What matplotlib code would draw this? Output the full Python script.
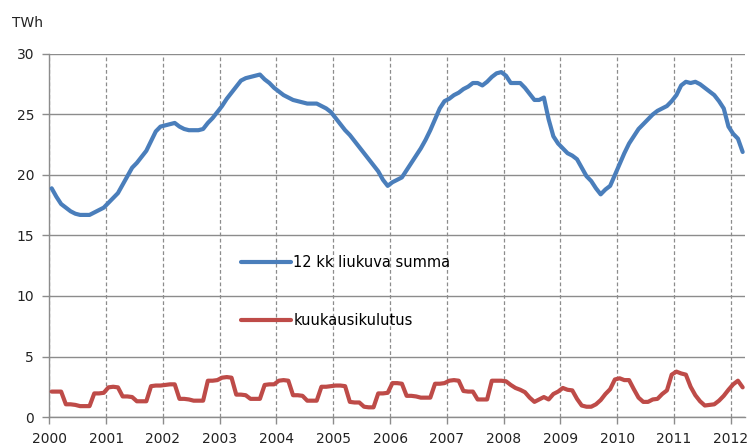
import matplotlib.pyplot as plt
import numpy as np

#===========================================================================#
#
# Data: monthly values, Jan 2000 .. Mar 2012 (TWh)
#
#---------------------------------------------------------------------------#

years = list(range(2000, 2013))

# 12 kk liukuva summa (12-month moving sum)
rolling_sum = [
    18.9, 18.2, 17.6, 17.3, 17.0, 16.8, 16.7, 16.7, 16.7, 16.9, 17.1, 17.3,
    17.7, 18.1, 18.5, 19.2, 19.9, 20.6, 21.0, 21.5, 22.0, 22.8, 23.6, 24.0,
    24.1, 24.2, 24.3, 24.0, 23.8, 23.7, 23.7, 23.7, 23.8, 24.3, 24.7, 25.2,
    25.7, 26.3, 26.8, 27.3, 27.8, 28.0, 28.1, 28.2, 28.3, 27.9, 27.6, 27.2,
    26.9, 26.6, 26.4, 26.2, 26.1, 26.0, 25.9, 25.9, 25.9, 25.7, 25.5, 25.2,
    24.7, 24.2, 23.7, 23.3, 22.8, 22.3, 21.8, 21.3, 20.8, 20.3, 19.6, 19.1,
    19.4, 19.6, 19.8, 20.4, 21.0, 21.6, 22.2, 22.9, 23.7, 24.6, 25.5, 26.1,
    26.3, 26.6, 26.8, 27.1, 27.3, 27.6, 27.6, 27.4, 27.7, 28.1, 28.4, 28.5,
    28.2, 27.6, 27.6, 27.6, 27.2, 26.7, 26.2, 26.2, 26.4, 24.6, 23.2, 22.6,
    22.2, 21.8, 21.6, 21.3, 20.6, 19.9, 19.5, 18.9, 18.4, 18.8, 19.1, 20.0,
    20.9, 21.8, 22.6, 23.2, 23.8, 24.2, 24.6, 25.0, 25.3, 25.5, 25.7, 26.1,
    26.6, 27.4, 27.7, 27.6, 27.7, 27.5, 27.2, 26.9, 26.6, 26.1, 25.5, 24.0,
    23.4, 23.0, 21.9,
]

# kuukausikulutus (monthly consumption)
monthly = [
    2.1, 2.1, 2.1, 1.05, 1.05, 1.0, 0.9, 0.9, 0.9, 1.95, 1.95, 2.0,
    2.45, 2.5, 2.45, 1.7, 1.7, 1.65, 1.3, 1.3, 1.3, 2.55, 2.6, 2.6,
    2.65, 2.7, 2.7, 1.5, 1.5, 1.45, 1.35, 1.35, 1.35, 3.0, 3.0, 3.05,
    3.25, 3.3, 3.25, 1.85, 1.85, 1.8, 1.5, 1.5, 1.5, 2.65, 2.7, 2.7,
    3.0, 3.05, 3.0, 1.8, 1.8, 1.75, 1.35, 1.35, 1.35, 2.5, 2.5, 2.55,
    2.6, 2.6, 2.55, 1.25, 1.2, 1.2, 0.85, 0.8, 0.8, 1.95, 1.95, 2.0,
    2.8, 2.8, 2.75, 1.75, 1.75, 1.7, 1.6, 1.6, 1.6, 2.75, 2.75, 2.8,
    3.0, 3.05, 3.0, 2.15, 2.1, 2.1, 1.45, 1.45, 1.45, 3.0, 3.0, 3.0,
    2.95, 2.65, 2.4, 2.25, 2.05, 1.6, 1.25, 1.45, 1.65, 1.45, 1.9, 2.1,
    2.4, 2.25, 2.2, 1.5, 0.95, 0.85, 0.85, 1.05, 1.4, 1.9, 2.3, 3.1,
    3.2, 3.05, 3.05, 2.3, 1.6, 1.25, 1.25, 1.45, 1.5, 1.9, 2.2, 3.5,
    3.75, 3.6, 3.5, 2.5, 1.8, 1.3, 0.95, 1.0, 1.05, 1.35, 1.75, 2.25,
    2.7, 3.0, 2.45,
]

labels = ["12 kk liukuva summa", "kuukausikulutus"]

#===========================================================================#
#
# Plot
#
#---------------------------------------------------------------------------#

BLUE = "#4a7ebb"
RED = "#be4b48"
GRID = "#8c8c8c"

fig = plt.figure(figsize=(7.55, 4.46), dpi=100)
ax = fig.add_axes([0.0653, 0.065, 0.9215, 0.814])

n = len(rolling_sum)
x = np.arange(n) + 0.5   # categories sit between tick marks

ax.plot(x, rolling_sum, color=BLUE, lw=3.0, solid_joinstyle="round",
        solid_capstyle="round", label=labels[0], zorder=3)
ax.plot(x, monthly, color=RED, lw=3.0, solid_joinstyle="round",
        solid_capstyle="round", label=labels[1], zorder=3)

ax.set_xlim(0, n)
ax.set_ylim(0, 30)

ax.set_yticks(np.arange(0, 31, 5))
ax.set_xticks(np.arange(0, 12 * len(years), 12))
ax.set_xticklabels([str(y) for y in years])

ax.yaxis.grid(True, color=GRID, lw=1.0, ls="-", zorder=1)
ax.xaxis.grid(True, color=GRID, lw=0.9, ls=(0, (3, 2)), zorder=1)
ax.set_axisbelow(True)

for side in ["top", "right"]:
    ax.spines[side].set_visible(False)
for side in ["left", "bottom"]:
    ax.spines[side].set_color(GRID)
    ax.spines[side].set_linewidth(1.0)

ax.tick_params(axis="both", colors=GRID, length=5, width=1.0,
               labelcolor="#222222", labelsize=10)
ax.tick_params(axis="y", pad=6)
ax.tick_params(axis="x", pad=6)

fig.text(0.016, 0.948, "TWh", fontsize=10, color="#222222", va="center")

ax.legend(loc="upper left", bbox_to_anchor=(0.265, 0.467), frameon=False,
          fontsize=10.5, handlelength=3.4, handletextpad=0.2,
          labelspacing=2.95, borderpad=0)

fig.savefig("out.png", dpi=100)
plt.close()
